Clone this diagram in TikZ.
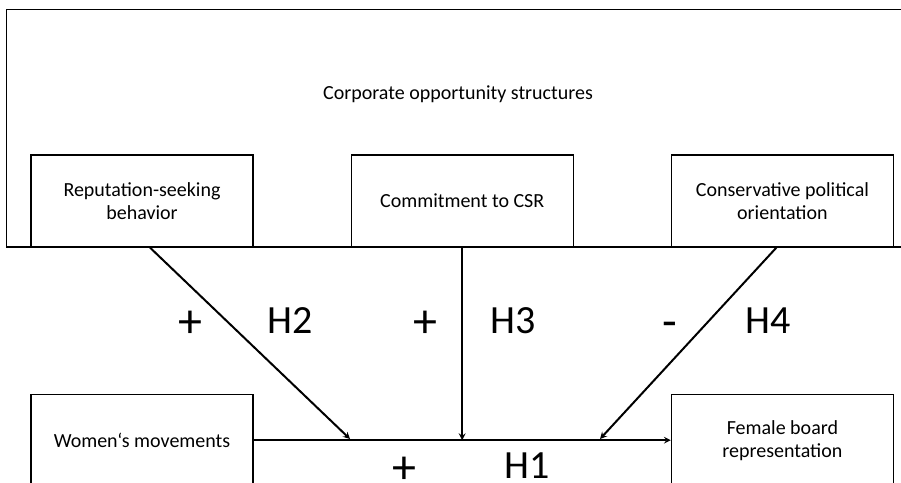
\documentclass[tikz,border=0pt]{standalone}
\usepackage{fontspec}
\setmainfont{Carlito}
\usepackage{tikz}
\usetikzlibrary{arrows, positioning}
\tikzstyle{factor} = [rectangle, minimum width=222pt, minimum height=92pt, text centered, align=center, draw=black, line width=1.2pt, font=\fontsize{20}{23}\selectfont]
\tikzstyle{hyp} = [inner sep=0pt, font=\fontsize{40}{48}\selectfont]
\tikzstyle{sign} = [inner sep=0pt, font=\fontsize{48}{56}\selectfont]
\tikzstyle{link} = [draw=black, line width=2pt, -stealth]

\begin{document}
\begin{tikzpicture}[x=1pt, y=-1pt, node distance=97pt]
				\useasboundingbox (0,0) rectangle (901,482);
				\clip (0,0) rectangle (901,482);
				
				% outer frame, open on the right
				\draw [line width=1.2pt] (6.5,9.5) rectangle (930,247);
				\node (corp) at (458,94) [font=\fontsize{20}{23}\selectfont] {Corporate opportunity structures};
				
				\node (rep) at (142,201) [factor] {Reputation-seeking\\behavior};
				\node (csr) [factor, right=97pt of rep] {Commitment to CSR};
				\node (cons) [factor, right=97pt of csr] {Conservative political\\orientation};
				\node (women) [factor, below=146pt of rep] {Women‘s movements};
				\node (female) [factor, below=146pt of cons] {Female board\\representation};
				
				\coordinate (h2end) at (350,439);
				\coordinate (h3end) at (csr.south |- women.east);
				\coordinate (h4end) at (600,439);
				
				\draw [link] (women.east) -- (female.west);
				\draw [link] ([xshift=8pt]rep.south) -- (h2end);
				\draw [link] (csr.south) -- (h3end);
				\draw [link] ([xshift=-6pt]cons.south) -- (h4end);
				
				% signs and hypotheses
				\node (s2) at (190,324) [sign] {+};
				\node (h2) at (290,321) [hyp] {H2};
				\node (s3) at (425,324) [sign] {+};
				\node (h3) at (513,321) [hyp] {H3};
				\node (s4) at (670,330) [sign] {-};
				\node (h4) at (768,321) [hyp] {H4};
				\node (s1) at (404,470) [sign] {+};
				\node (h1) at (527,466) [hyp] {H1};
				
			\end{tikzpicture}
\end{document}
